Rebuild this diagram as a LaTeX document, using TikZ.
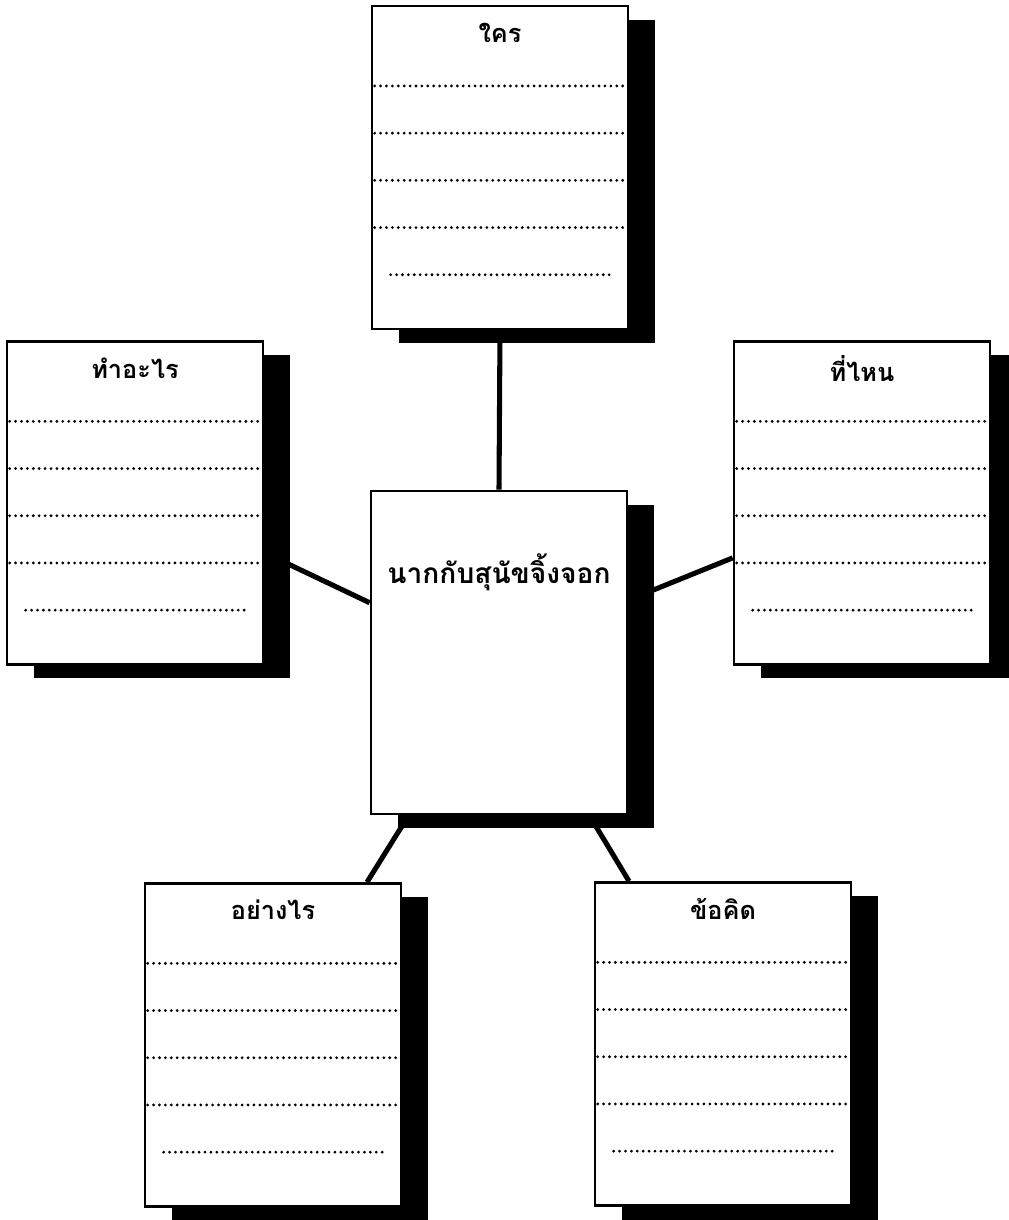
\documentclass[tikz,border=0pt]{standalone}
\usepackage{fontspec}
\newfontfamily\thaifont[Script=Thai]{Loma}
\usetikzlibrary{shadows}
\begin{document}
\begin{tikzpicture}[every node/.style={font=\thaifont\bfseries\fontsize{18}{21}\selectfont},
  card/.style={draw,line width=1.9pt,fill=white,minimum width=6.4cm,minimum height=8.075cm,inner sep=0pt,
    drop shadow={shadow xshift=0.675cm,shadow yshift=-0.35cm,fill=black,opacity=1}},
  dots/.style={line width=2.2pt,line cap=round,dash pattern=on 0pt off 4.2pt},
  link/.style={line width=3.6pt}]
\useasboundingbox (0,0) rectangle (25.225,30.5);
\clip (0,0) rectangle (25.225,30.5);
\foreach \n/\x/\y/\txt in {who/12.5/26.31/ใคร, what/3.375/17.925/ทำอะไร, where/21.55/17.925/ที่ไหน, how/6.825/4.375/อย่างไร, moral/18.075/4.4/ข้อคิด} {
  \node[card] (\n) at (\x,\y) {};
  \node (\n-t) at ([yshift=-0.7cm]\n.north) {\txt};
  \foreach \d in {2.03,3.21,4.39,5.57} {\draw[dots] ([xshift=0.1cm,yshift=-\d cm]\n.north west) -- ([xshift=-0.1cm,yshift=-\d cm]\n.north east);}
  \draw[dots] ([xshift=0.5cm,yshift=-6.75cm]\n.north west) -- ([xshift=-0.45cm,yshift=-6.75cm]\n.north east);
}
\node[card] (story) at (12.475,14.19) {};
\node[font=\thaifont\bfseries\fontsize{20}{24}\selectfont] (story-t) at ([yshift=-2.08cm]story.north) {นากกับสุนัขจิ้งจอก};
\draw[link] (who.south) -- (story.north);
\draw[link] (what.-21) -- (story.159);
\draw[link] (story.22) -- (where.203);
\draw[link] (story.-119) -- (how.60);
\draw[link] (story.-61) -- (moral.120);
\end{tikzpicture}
\end{document}
